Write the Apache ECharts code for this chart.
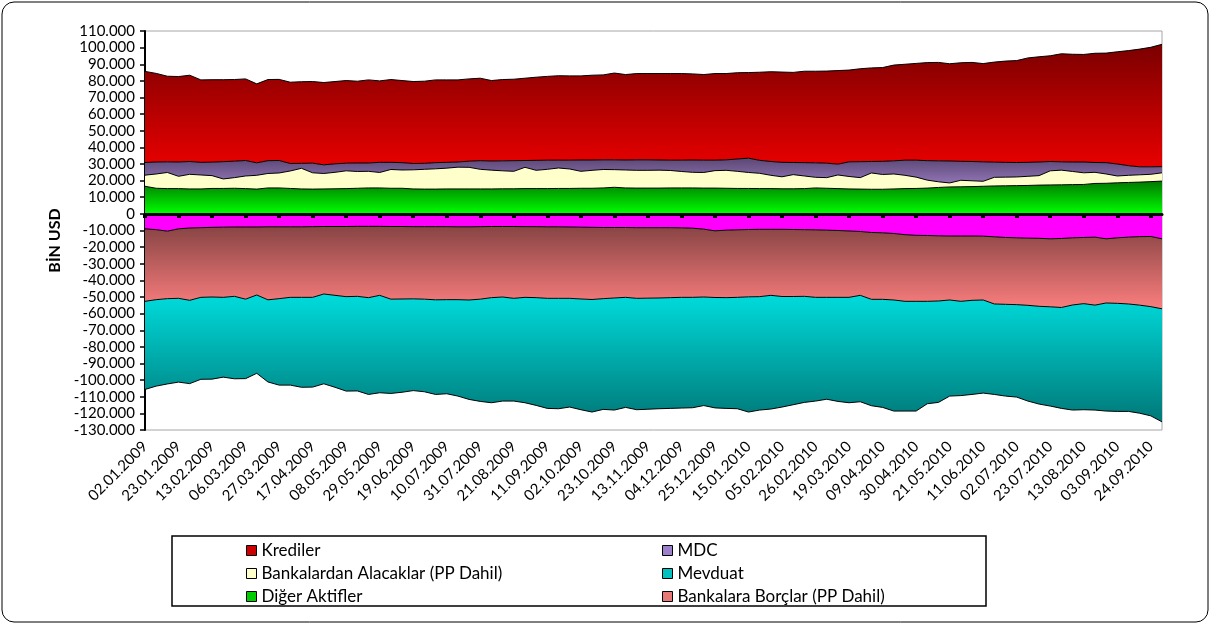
<!DOCTYPE html>
<html>
<head>
<meta charset="utf-8">
<script src="https://cdn.jsdelivr.net/npm/echarts@6/dist/echarts.min.js"></script>
<style>
  html, body { margin: 0; padding: 0; background: #fff; }
  #chart { width: 1212px; height: 626px; }
</style>
</head>
<body>
<div id="chart"></div>
<script>
// haftalik tarihler 02.01.2009 - 01.10.2010
var dates = [];
function pad(n) { return (n < 10 ? '0' : '') + n; }
for (var k = 0, t = Date.UTC(2009, 0, 2); k < 92; k++, t += 7 * 86400000) {
    var d = new Date(t);
    dates.push(pad(d.getUTCDate()) + '.' + pad(d.getUTCMonth() + 1) + '.' + d.getUTCFullYear());
}

var digerAktifler = [16600,15400,15200,15200,15000,15000,15300,15300,15400,15200,
    14900,15600,15600,15300,15000,14900,15000,15100,15200,15400,
    15600,15600,15400,15400,15000,14900,14900,15000,15000,15000,
    15000,15000,15100,15100,15200,15200,15200,15300,15300,15400,
    15400,15600,16000,15600,15500,15500,15500,15600,15600,15600,
    15500,15500,15400,15300,15300,15200,15200,15100,15100,15200,
    15600,15400,15200,15000,14900,14800,14800,15000,15200,15300,
    15500,15900,16200,16300,16400,16600,16800,16900,17000,17100,
    17300,17400,17500,17600,17700,18300,18400,18700,18900,19100,
    19400,19700];

var bankalardan = [6700,8600,9700,7400,8800,8400,7700,5700,6400,7600,
    8300,8700,9000,10500,12400,9800,9300,9900,10700,10100,
    10000,9300,11300,11000,11500,11900,12200,12500,13100,13000,
    11800,11300,10800,10500,12800,11000,11600,12300,11700,10200,
    10800,11100,10600,10800,10700,10700,10800,10500,9900,9400,
    9400,10500,10800,10300,9600,9200,8000,7200,8500,7600,
    6400,6400,8200,7500,6900,9800,8900,9000,8000,6800,
    4800,3400,2400,3900,3500,3000,5200,5200,5200,5500,
    5700,8500,8800,7900,7000,6700,5600,4100,4300,4400,
    4400,5000];

var mdc = [7600,7200,6400,8600,7700,7600,8100,10400,9900,9300,
    7500,7700,7500,4500,3000,5800,5200,5100,4600,5100,
    5000,6100,4300,4400,3800,3600,3700,3500,3100,3700,
    5200,5500,6000,6400,4100,6000,5500,4700,5300,6800,
    6200,5800,5900,6000,6300,6300,6100,6200,6800,7400,
    7400,6300,6300,7400,8600,7800,8300,8700,7300,8000,
    8700,8700,6500,8800,9600,6900,7900,7900,9100,10200,
    11700,12600,13200,11400,11600,11700,9100,8900,8700,8400,
    8200,5600,5000,5700,6500,5900,6800,7200,5800,4800,
    4500,3700];

var krediler = [54800,53300,51500,51400,51900,49600,49600,49300,49100,49100,
    47500,48800,48800,48900,49100,49100,49500,49500,49700,49200,
    50000,49000,49800,49400,49300,49400,49800,49600,49400,49500,
    49600,48400,48900,49000,49500,50000,50400,50800,50700,50600,
    51000,51100,52200,51400,51900,51900,52000,52100,52100,51800,
    51500,52100,51900,51900,51500,53000,54000,54300,54200,55000,
    55100,55400,56300,55200,55900,56300,56400,57600,57700,58200,
    59000,59200,58500,59300,59600,59100,60200,60900,61300,62800,
    63300,63600,65000,64800,64700,65700,65900,67500,69200,70800,
    71900,73600];

var digerPasifler = [-9000,-9500,-10400,-9000,-8500,-8300,-8100,-8000,-7900,-7900,
    -7900,-7800,-7800,-7800,-7800,-7700,-7600,-7600,-7600,-7500,
    -7500,-7500,-7600,-7600,-7700,-7700,-7700,-7700,-7800,-7800,
    -7700,-7600,-7600,-7600,-7700,-7700,-7800,-7800,-7900,-8000,
    -8100,-8200,-8200,-8200,-8300,-8300,-8300,-8300,-8400,-8600,
    -9200,-10200,-9800,-9600,-9400,-9300,-9300,-9300,-9400,-9500,
    -9600,-9800,-10000,-10300,-10600,-11200,-11400,-11800,-12500,-12900,
    -13000,-13200,-13300,-13300,-13300,-13400,-13800,-14200,-14400,-14600,
    -14700,-15000,-14800,-14400,-14200,-14000,-15000,-14400,-14000,-13700,
    -13600,-15000];

var bankalaraBorclar = [-43600,-42100,-40600,-41800,-43500,-41900,-41900,-42200,-41700,-43400,
    -40900,-43900,-43200,-42400,-42400,-42500,-40600,-41400,-42200,-42100,
    -42900,-41500,-43700,-43600,-43400,-43600,-44000,-43900,-43800,-44000,
    -43600,-42800,-42400,-43200,-42500,-42700,-43000,-43000,-42900,-43200,
    -43400,-42800,-42400,-42000,-42500,-42400,-42300,-42100,-41800,-41600,
    -40800,-40100,-40600,-40600,-40500,-40500,-39700,-40400,-40300,-40100,
    -40600,-40400,-40200,-39900,-38400,-40200,-40000,-40000,-40100,-39700,
    -39600,-39200,-38500,-39300,-38700,-38400,-40400,-40200,-40200,-40400,
    -40900,-40900,-41500,-40400,-39800,-40900,-38600,-39400,-40200,-41200,
    -42200,-42100];

var mevduat = [-53000,-52000,-51300,-50400,-50100,-49300,-49400,-48000,-49600,-47800,
    -47100,-49400,-52000,-52800,-54100,-54000,-54000,-55300,-56800,-56900,
    -58200,-58600,-56700,-56100,-55200,-55700,-56900,-56600,-58000,-59800,
    -61500,-63200,-62600,-61800,-63400,-64800,-66200,-66400,-65400,-66600,
    -67700,-66600,-67400,-66200,-67000,-66800,-66600,-66600,-66600,-66400,
    -65300,-66400,-66600,-67000,-69300,-68200,-68400,-66500,-65100,-63800,
    -62400,-61300,-62600,-63400,-64000,-64000,-65000,-66800,-66000,-66000,
    -61600,-61000,-57800,-56700,-56600,-56000,-54400,-55200,-55600,-57600,
    -58800,-59700,-60700,-63200,-63800,-63100,-65000,-65000,-64600,-65000,
    -65700,-68000];

var FONT = 'Lato';

function fmt(v) {
    var s = String(Math.abs(v)).replace(/\B(?=(\d{3})+(?!\d))/g, '.');
    return (v < 0 ? '-' : '') + s;
}

function grad(top, bottom) {
    return new echarts.graphic.LinearGradient(0, 0, 0, 1, [
        { offset: 0, color: top },
        { offset: 1, color: bottom }
    ]);
}

function alan(name, data, fill, legendColor) {
    return {
        name: name,
        type: 'line',
        stack: 'toplam',
        data: data,
        symbol: 'none',
        showSymbol: false,
        lineStyle: { color: '#000', width: 1 },
        itemStyle: { color: legendColor },
        areaStyle: { color: fill, opacity: 1 },
        emphasis: { disabled: true }
    };
}

var chart = echarts.init(document.getElementById('chart'));

var legendText = { fontFamily: FONT, fontSize: 17, color: '#000' };

var option = {
    backgroundColor: '#fff',
    animation: false,
    grid: {
        left: 145, right: 50, top: 31, bottom: 196,
        show: true, borderColor: '#a6a6a6', borderWidth: 1, backgroundColor: 'transparent'
    },
    graphic: [
        { type: 'rect', z: -1, shape: { x: 2, y: 2, width: 1206, height: 620, r: 12 },
          style: { fill: 'none', stroke: '#000', lineWidth: 1 } },
        { type: 'rect', shape: { x: 172, y: 536, width: 814, height: 70 },
          style: { fill: 'none', stroke: '#000', lineWidth: 1.5 } }
    ],
    legend: [{
        orient: 'vertical', left: 241, top: 537,
        itemWidth: 10, itemHeight: 10, itemGap: 6, icon: 'rect',
        itemStyle: { borderColor: '#000', borderWidth: 1 },
        textStyle: legendText,
        data: ['Krediler', 'Bankalardan Alacaklar (PP Dahil)', 'Diğer Aktifler']
    }, {
        orient: 'vertical', left: 657, top: 537,
        itemWidth: 10, itemHeight: 10, itemGap: 6, icon: 'rect',
        itemStyle: { borderColor: '#000', borderWidth: 1 },
        textStyle: legendText,
        data: ['MDC', 'Mevduat', 'Bankalara Borçlar (PP Dahil)']
    }],
    xAxis: [{
        type: 'category',
        position: 'bottom',
        data: dates,
        boundaryGap: false,
        axisLine: { show: false, onZero: false },
        axisTick: { show: false },
        axisLabel: {
            interval: 2, rotate: 45, margin: 14,
            fontFamily: FONT, fontSize: 15, color: '#000'
        },
        splitLine: { show: false }
    }, {
        type: 'category',
        position: 'bottom',
        data: dates,
        boundaryGap: false,
        z: 10,
        axisLine: { show: true, onZero: true, lineStyle: { color: '#000', width: 3 } },
        axisTick: { show: true, interval: 2, length: 4, lineStyle: { color: '#000', width: 4 } },
        axisLabel: { show: false },
        splitLine: { show: false }
    }],
    yAxis: {
        type: 'value',
        min: -130000, max: 110000, interval: 10000,
        name: 'BİN USD',
        nameLocation: 'middle',
        nameGap: 80,
        nameTextStyle: { fontFamily: FONT, fontSize: 16, fontWeight: 'bold', color: '#000', padding: [0, 20, 0, 0] },
        axisLine: { show: true, lineStyle: { color: '#000', width: 2 } },
        axisTick: { show: true, length: 5, lineStyle: { color: '#000', width: 1.5 } },
        axisLabel: { formatter: fmt, fontFamily: FONT, fontSize: 15, color: '#000', margin: 10 },
        splitLine: { show: false }
    },
    series: [
        alan('Diğer Aktifler', digerAktifler, grad('#007800', '#00ff00'), '#00cc00'),
        alan('Bankalardan Alacaklar (PP Dahil)', bankalardan, '#ffffcc', '#ffffcc'),
        alan('MDC', mdc, grad('#5c4774', '#8f74b4'), '#9c80cc'),
        alan('Krediler', krediler, grad('#7a0000', '#e80000'), '#cc0000'),
        alan('Diğer Pasifler', digerPasifler, '#ff00ff', '#ff00ff'),
        alan('Bankalara Borçlar (PP Dahil)', bankalaraBorclar, grad('#884444', '#fb7e7e'), '#e87878'),
        alan('Mevduat', mevduat, grad('#00dcdc', '#007878'), '#00c0c0')
    ]
};

chart.setOption(option);
window.onresize = function () { chart.resize(); };
</script>
</body>
</html>
